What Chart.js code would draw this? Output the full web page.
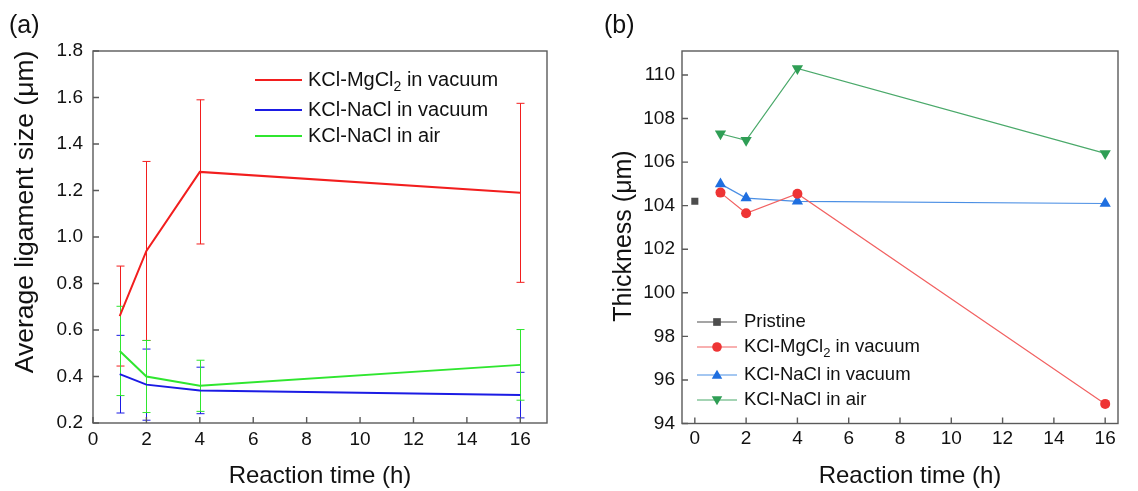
<!DOCTYPE html>
<html>
<head>
<meta charset="utf-8">
<script src="https://cdn.jsdelivr.net/npm/chart.js@4.4.0/dist/chart.umd.min.js"></script>
<style>
  body { margin: 0; background: #fff; width: 1138px; height: 491px; overflow: hidden; position: relative; }
  #ca { position: absolute; left: 0; top: 0; }
  #cb { position: absolute; left: 560px; top: 0; }
</style>
</head>
<body>
<canvas id="ca" width="560" height="491"></canvas>
<canvas id="cb" width="578" height="491"></canvas>
<script>
const FONT = "'Liberation Sans', Arial, sans-serif";

// ---- panel (a): average ligament size ----
const timesA = [1, 2, 4, 16];
const ligMgVac = [0.66, 0.94, 1.28, 1.19];
const ligMgVacErr = [0.215, 0.385, 0.31, 0.385];
const ligNaVac = [0.41, 0.365, 0.34, 0.32];
const ligNaVacErr = [0.167, 0.153, 0.10, 0.098];
const ligNaAir = [0.51, 0.40, 0.36, 0.45];
const ligNaAirErr = [0.192, 0.155, 0.11, 0.152];
const xTicksA = [0, 2, 4, 6, 8, 10, 12, 14, 16];
const yTicksA = [0.2, 0.4, 0.6, 0.8, 1.0, 1.2, 1.4, 1.6, 1.8];
const namesA = ['KCl-MgCl₂ in vacuum', 'KCl-NaCl in vacuum', 'KCl-NaCl in air'];

// ---- panel (b): thickness ----
const timesPristine = [0];
const thickPristine = [104.2];
const timesB = [1, 2, 4, 16];
const thickMgVac = [104.6, 103.65, 104.55, 94.9];
const thickNaVac = [105.0, 104.35, 104.2, 104.1];
const thickNaAir = [107.3, 107.0, 110.3, 106.4];
const xTicksB = [0, 2, 4, 6, 8, 10, 12, 14, 16];
const yTicksB = [94, 96, 98, 100, 102, 104, 106, 108, 110];
const namesB = ['Pristine', 'KCl-MgCl₂ in vacuum', 'KCl-NaCl in vacuum', 'KCl-NaCl in air'];

// text with a "₂" drawn as a real subscript
function drawRich(ctx, text, x, y, size) {
  const parts = text.split('₂');
  ctx.textBaseline = 'middle';
  ctx.textAlign = 'left';
  parts.forEach((p, i) => {
    ctx.font = size + 'px ' + FONT;
    ctx.fillText(p, x, y);
    x += ctx.measureText(p).width;
    if (i < parts.length - 1) {
      ctx.font = Math.round(size * 0.68) + 'px ' + FONT;
      ctx.fillText('2', x, y + size * 0.35);
      x += ctx.measureText('2').width;
    }
  });
}

function drawMarker(ctx, style, x, y, r, color) {
  ctx.fillStyle = color;
  ctx.beginPath();
  if (style === 'rect') {
    ctx.rect(x - r * 0.8, y - r * 0.8, r * 1.6, r * 1.6);
  } else if (style === 'circle') {
    ctx.arc(x, y, r, 0, Math.PI * 2);
  } else if (style === 'tri') {
    ctx.moveTo(x, y - r * 1.1); ctx.lineTo(x + r * 1.1, y + r * 0.8); ctx.lineTo(x - r * 1.1, y + r * 0.8);
  } else {
    ctx.moveTo(x, y + r * 1.1); ctx.lineTo(x + r * 1.1, y - r * 0.8); ctx.lineTo(x - r * 1.1, y - r * 0.8);
  }
  ctx.closePath();
  ctx.fill();
}

const errorBars = {
  id: 'errorBars',
  beforeDatasetsDraw(chart, args, opts) {
    if (!opts.errs) return;
    const { ctx, scales: { x, y } } = chart;
    ctx.save();
    ctx.lineWidth = 1;
    chart.data.datasets.forEach((ds, i) => {
      const err = opts.errs[i];
      ctx.strokeStyle = ds.borderColor;
      ds.data.forEach((pt, j) => {
        const px = Math.round(x.getPixelForValue(pt.x)) + 0.5;
        const top = y.getPixelForValue(pt.y + err[j]);
        const bot = y.getPixelForValue(pt.y - err[j]);
        ctx.beginPath();
        ctx.moveTo(px, top); ctx.lineTo(px, bot);
        ctx.moveTo(px - 4, top); ctx.lineTo(px + 4, top);
        ctx.moveTo(px - 4, bot); ctx.lineTo(px + 4, bot);
        ctx.stroke();
      });
    });
    ctx.restore();
  }
};

const frame = {
  id: 'frame',
  afterDraw(chart, args, opts) {
    const { ctx, chartArea: a, scales: { x, y } } = chart;
    ctx.save();
    ctx.strokeStyle = '#5a5a5a';
    ctx.lineWidth = 1.4;
    ctx.strokeRect(a.left, a.top, a.right - a.left, a.bottom - a.top);
    ctx.beginPath();
    x.ticks.forEach(t => {
      const px = x.getPixelForValue(t.value);
      ctx.moveTo(px, a.bottom); ctx.lineTo(px, a.bottom - 6);
    });
    y.ticks.forEach(t => {
      const py = y.getPixelForValue(t.value);
      ctx.moveTo(a.left, py); ctx.lineTo(a.left + 6, py);
    });
    ctx.stroke();

    // axis titles and panel letter
    ctx.fillStyle = '#111';
    ctx.font = '24px ' + FONT;
    ctx.textAlign = 'center';
    ctx.textBaseline = 'alphabetic';
    ctx.fillText(opts.xTitle, opts.xTitleX, 483);
    ctx.save();
    ctx.translate(opts.yTitleX, opts.yTitleY);
    ctx.rotate(-Math.PI / 2);
    ctx.font = opts.yTitleSize + 'px ' + FONT;
    ctx.fillText(opts.yTitle, 0, 0);
    ctx.restore();
    ctx.textAlign = 'left';
    ctx.font = '25px ' + FONT;
    ctx.fillText(opts.letter, opts.letterX, 33);

    // legend
    opts.legend.rows.forEach((row, i) => {
      const ly = opts.legend.ys[i];
      ctx.strokeStyle = row.line;
      ctx.lineWidth = row.lw;
      ctx.beginPath();
      ctx.moveTo(opts.legend.x0, ly); ctx.lineTo(opts.legend.x1, ly);
      ctx.stroke();
      if (row.marker) drawMarker(ctx, row.marker, (opts.legend.x0 + opts.legend.x1) / 2, ly, 4.8, row.mcolor);
      ctx.fillStyle = '#111';
      drawRich(ctx, row.label, opts.legend.tx, ly, opts.legend.size);
    });
    ctx.restore();
  }
};

const pts = (xs, ys) => xs.map((v, i) => ({ x: v, y: ys[i] }));

function axes(xmin, xmax, ymin, ymax, xt, yt, yw, xh, ypad, xpad, yfmt) {
  return {
    x: {
      type: 'linear', min: xmin, max: xmax,
      grid: { display: false, drawTicks: false }, border: { display: false },
      afterBuildTicks: s => { s.ticks = xt.map(v => ({ value: v })); },
      afterFit: s => { s.height = xh; },
      ticks: { color: '#111', font: { family: FONT, size: 19 }, padding: xpad, maxRotation: 0 }
    },
    y: {
      type: 'linear', min: ymin, max: ymax,
      grid: { display: false, drawTicks: false }, border: { display: false },
      afterBuildTicks: s => { s.ticks = yt.map(v => ({ value: v })); },
      afterFit: s => { s.width = yw; },
      ticks: { color: '#111', font: { family: FONT, size: 19 }, padding: ypad, callback: yfmt }
    }
  };
}

const colA = ['#f21e1e', '#1b1be4', '#2fe62f'];

new Chart(document.getElementById('ca'), {
  type: 'line',
  data: {
    datasets: [
      { label: namesA[0], data: pts(timesA, ligMgVac), borderColor: colA[0], borderWidth: 2 },
      { label: namesA[1], data: pts(timesA, ligNaVac), borderColor: colA[1], borderWidth: 2 },
      { label: namesA[2], data: pts(timesA, ligNaAir), borderColor: colA[2], borderWidth: 2 }
    ]
  },
  options: {
    responsive: false, animation: false,
    elements: { point: { radius: 0 }, line: { tension: 0 } },
    layout: { padding: { left: 0, top: 51, right: 13, bottom: 0 } },
    scales: axes(0, 17, 0.2, 1.8, xTicksA, yTicksA, 93, 68, 10, 5, v => v.toFixed(1)),
    plugins: {
      legend: { display: false }, tooltip: { enabled: false },
      errorBars: { errs: [ligMgVacErr, ligNaVacErr, ligNaAirErr] },
      frame: {
        xTitle: 'Reaction time (h)', xTitleX: 320,
        yTitle: 'Average ligament size (μm)', yTitleX: 33, yTitleY: 212, yTitleSize: 26.5,
        letter: '(a)', letterX: 9,
        legend: {
          x0: 255, x1: 302, tx: 308, size: 20, ys: [80, 110, 136],
          rows: namesA.map((n, i) => ({ label: n, line: colA[i], lw: 2 }))
        }
      }
    }
  },
  plugins: [errorBars, frame]
});

const lineB = ['#4d4d4d', '#f26262', '#4b8fe4', '#4aa96a'];
const markB = ['#4d4d4d', '#ee3434', '#1f6fe0', '#2f9e55'];
const styleB = ['rect', 'circle', 'tri', 'tridown'];

new Chart(document.getElementById('cb'), {
  type: 'line',
  data: {
    datasets: [
      { label: namesB[0], data: pts(timesPristine, thickPristine), borderColor: lineB[0], backgroundColor: markB[0],
        pointStyle: 'rect', pointRadius: 5 },
      { label: namesB[1], data: pts(timesB, thickMgVac), borderColor: lineB[1], backgroundColor: markB[1],
        pointStyle: 'circle', pointRadius: 5 },
      { label: namesB[2], data: pts(timesB, thickNaVac), borderColor: lineB[2], backgroundColor: markB[2],
        pointStyle: 'triangle', pointRadius: 6.5 },
      { label: namesB[3], data: pts(timesB, thickNaAir), borderColor: lineB[3], backgroundColor: markB[3],
        pointStyle: 'triangle', pointRotation: 180, pointRadius: 6.5 }
    ]
  },
  options: {
    responsive: false, animation: false,
    elements: { line: { tension: 0, borderWidth: 1.2 }, point: { borderWidth: 0 } },
    layout: { padding: { left: 0, top: 51, right: 20, bottom: 0 } },
    scales: axes(-0.5, 16.5, 94, 111.1, xTicksB, yTicksB, 122, 67.5, 7, 4, v => String(v)),
    plugins: {
      legend: { display: false }, tooltip: { enabled: false },
      frame: {
        xTitle: 'Reaction time (h)', xTitleX: 350,
        yTitle: 'Thickness (μm)', yTitleX: 71, yTitleY: 236, yTitleSize: 25,
        letter: '(b)', letterX: 44,
        legend: {
          x0: 137, x1: 177, tx: 184, size: 18.5, ys: [322, 347, 375, 400],
          rows: namesB.map((n, i) => ({ label: n, line: lineB[i], lw: 1.2, marker: styleB[i], mcolor: markB[i] }))
        }
      }
    }
  },
  plugins: [frame]
});
</script>
</body>
</html>
